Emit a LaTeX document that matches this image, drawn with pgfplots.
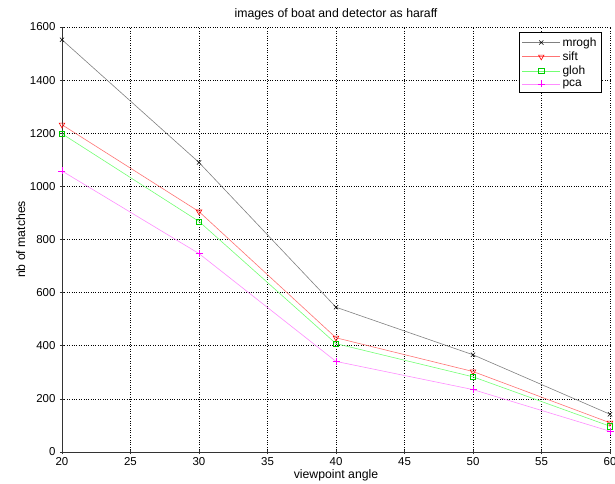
\documentclass[border=0pt]{standalone}
\usepackage{pgfplots}
\pgfplotsset{compat=1.18}
\usetikzlibrary{calc}
\usepackage{fontspec}
\setmainfont{Liberation Sans}
\definecolor{mgreen}{rgb}{0,1,0}
\definecolor{mmag}{rgb}{1,0,1}
\begin{document}
\begin{tikzpicture}
\begin{axis}[
  name=ax,
  width=548bp, height=425bp, scale only axis,
  xmin=20, xmax=60, ymin=0, ymax=1600,
  xtick={20,25,...,60}, ytick={0,200,...,1600},
  axis x line=bottom, axis y line=left,
  axis line style={-, black!80, line width=0.9pt},
  tick style={black!80, line width=0.6pt},
  major tick length=4bp,
  grid=major, grid style={dotted, black, line width=0.7pt},
  /pgf/number format/assume math mode=true,
  /pgf/number format/set thousands separator={},
  tick label style={font=\fontsize{11.5}{13}\selectfont},
  yticklabel style={xshift=-1bp},
  label style={font=\fontsize{12.3}{14}\selectfont},
  title style={font=\fontsize{12.3}{14}\selectfont, yshift=-3bp},
  title={images of boat and detector as haraff},
  xlabel={viewpoint angle},
  ylabel={nb of matches},
  xlabel style={yshift=3bp},
  ylabel style={yshift=-2bp},
  legend style={at={(0.985,0.988)}, anchor=north east, draw=black, fill=white,
    font=\fontsize{12}{13.5}\selectfont, line width=0.7pt, row sep=0bp,
    inner sep=3bp},
  legend cell align=left,
  legend image code/.code={%
    \draw[mark repeat=2, mark phase=2, #1]
      plot coordinates {(0bp,0bp) (19bp,0bp) (38bp,0bp)};},
  every axis plot/.append style={line width=0.6pt},
]
\addplot[color=black!50, mark=x, mark size=3bp, mark options={draw=black}]
  coordinates {(20,1552) (30,1090) (40,545) (50,366) (60,142)};
\addlegendentry{mrogh}
\addplot[color=red!55, mark=triangle, mark size=3.2bp, mark options={draw=red, rotate=180}]
  coordinates {(20,1232) (30,905) (40,430) (50,303) (60,110)};
\addlegendentry{sift}
\addplot[color=mgreen!55, mark=square, mark size=2.6bp, mark options={draw=mgreen!80!black}]
  coordinates {(20,1198) (30,868) (40,408) (50,283) (60,97)};
\addlegendentry{gloh}
\addplot[color=mmag!45, mark=+, mark size=3.5bp, mark options={draw=mmag}]
  coordinates {(20,1058) (30,747) (40,341) (50,235) (60,78)};
\addlegendentry{pca}
\end{axis}
\pgfresetboundingbox
\path[use as bounding box] ($(ax.south west)+(-62bp,-32bp)$) rectangle ($(ax.north east)+(5bp,27bp)$);
\end{tikzpicture}
\end{document}
